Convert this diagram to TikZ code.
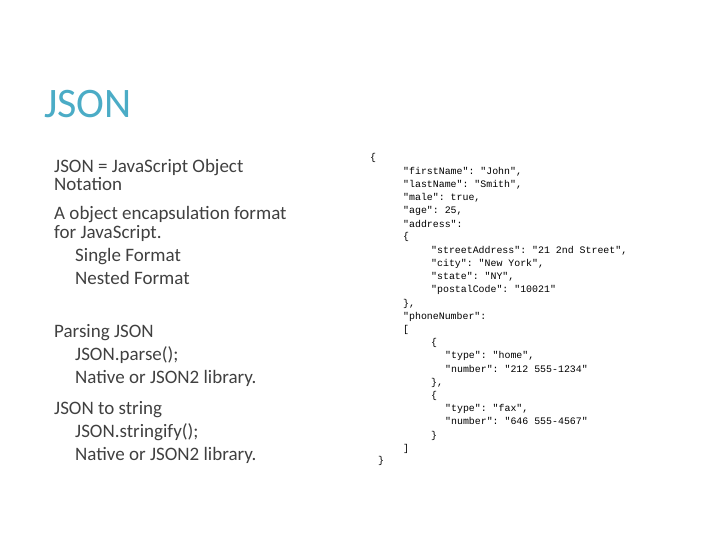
\documentclass[tikz,border=0pt]{standalone}
\usepackage{fontspec}
\setmainfont{Carlito}
\setmonofont{Liberation Mono}
\definecolor{titleteal}{HTML}{4BACC6}
\definecolor{bodygray}{HTML}{404040}
\begin{document}
\begin{tikzpicture}[x=1pt,y=-1pt,
  body/.style={anchor=base west,inner sep=0pt,font=\fontsize{19}{19}\selectfont,text=bodygray},
  code/.style={anchor=base west,inner sep=0pt,font=\ttfamily\fontsize{9.9}{10}\selectfont,text=black}]
\useasboundingbox (0,0) rectangle (720,540);
\node[anchor=base west,inner sep=0pt,font=\fontsize{42}{42}\selectfont,text=titleteal] (title) at (44,118) {JSON};
\node[body] (l1) at (54,173) {JSON = JavaScript Object};
\node[body] (l2) at (54,191) {Notation};
\node[body] (l3) at (54,220) {A object encapsulation format};
\node[body] (l4) at (54,238) {for JavaScript.};
\node[body] (l5) at (75,261) {Single Format};
\node[body] (l6) at (75,284) {Nested Format};
\node[body] (l7) at (54,337) {Parsing JSON};
\node[body] (l8) at (75,360) {JSON.parse();};
\node[body] (l9) at (75,383) {Native or JSON2 library.};
\node[body] (l10) at (54,414) {JSON to string};
\node[body] (l11) at (75,437) {JSON.stringify();};
\node[body] (l12) at (75,460) {Native or JSON2 library.};
\node[code] (c0) at (370,161) {\{};
\node[code] (c1) at (403,175) {"firstName": "John",};
\node[code] (c2) at (403,188) {"lastName": "Smith",};
\node[code] (c3) at (403,201) {"male": true,};
\node[code] (c4) at (403,214) {"age": 25,};
\node[code] (c5) at (403,227) {"address":};
\node[code] (c6) at (403,240) {\{};
\node[code] (c7) at (431,253) {"streetAddress": "21 2nd Street",};
\node[code] (c8) at (431,266) {"city": "New York",};
\node[code] (c9) at (431,279) {"state": "NY",};
\node[code] (c10) at (431,292) {"postalCode": "10021"};
\node[code] (c11) at (403,306) {\},};
\node[code] (c12) at (403,319) {"phoneNumber":};
\node[code] (c13) at (403,332) {[};
\node[code] (c14) at (431,345) {\{};
\node[code] (c15) at (445,358) {"type": "home",};
\node[code] (c16) at (445,372) {"number": "212 555-1234"};
\node[code] (c17) at (431,385) {\},};
\node[code] (c18) at (431,398) {\{};
\node[code] (c19) at (445,411) {"type": "fax",};
\node[code] (c20) at (445,424) {"number": "646 555-4567"};
\node[code] (c21) at (431,438) {\}};
\node[code] (c22) at (403,451) {]};
\node[code] (c23) at (378,463) {\}};
\end{tikzpicture}
\end{document}
